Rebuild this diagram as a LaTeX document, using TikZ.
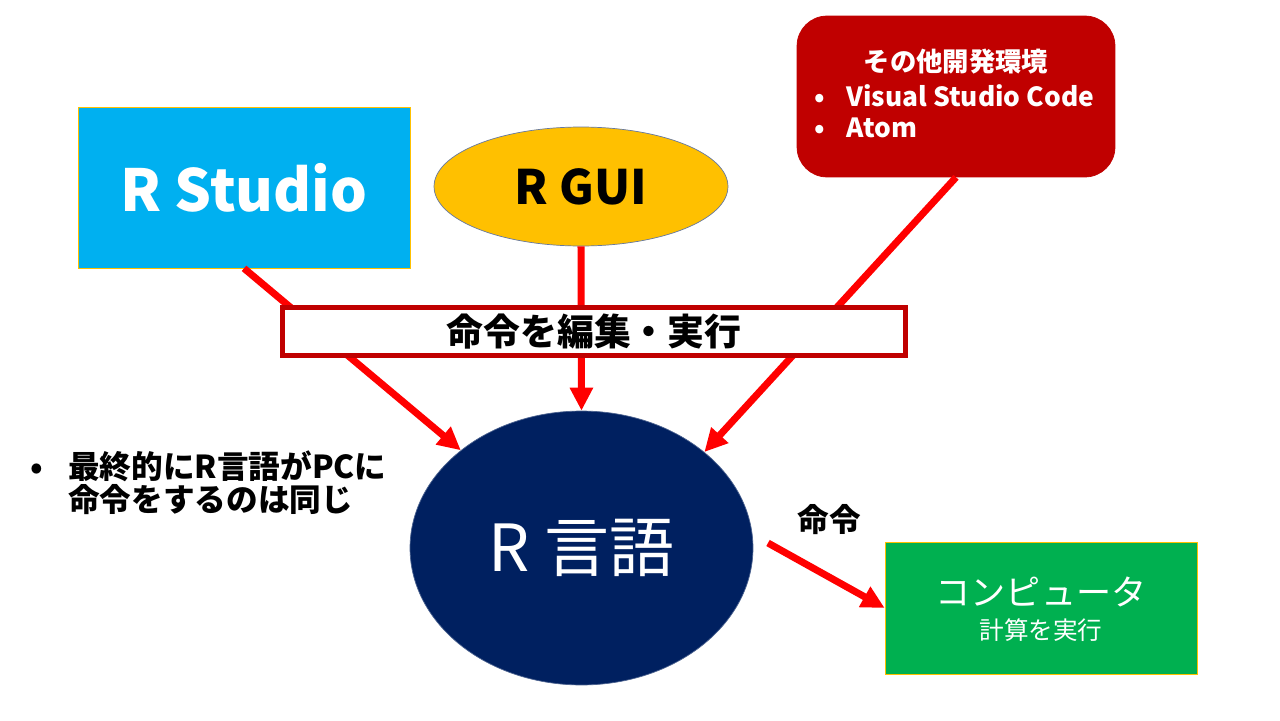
\documentclass[tikz,border=0pt]{standalone}
\usepackage{fontspec}
\setmainfont{Noto Sans CJK JP}
\usepackage{tikz}
\usetikzlibrary{arrows.meta,shapes.geometric}

\definecolor{studiocyan}{HTML}{00B0F0}
\definecolor{guigold}{HTML}{FFC000}
\definecolor{devred}{HTML}{C00000}
\definecolor{langnavy}{HTML}{002060}
\definecolor{pcgreen}{HTML}{00B050}
\definecolor{arrred}{HTML}{FF0000}

\tikzset{
  arr/.style={draw=arrred, line width=4pt, -{Triangle[length=0.46cm,width=0.44cm]}},
  plain/.style={inner sep=0pt, font=\bfseries\fontsize{18}{22}\selectfont},
}

\begin{document}
\begin{tikzpicture}[x=0.02cm,y=-0.02cm]
			\fill[white] (0,0) rectangle (1280,720);
			%%%%%%%%%%%%%%%%%%%%%%%%%%%%%%%%
			\node[draw=guigold, fill=studiocyan, minimum width=6.64cm, minimum height=3.22cm, text=white, font=\bfseries\fontsize{33}{38}\selectfont] (studio) at (244,187.5) {R Studio};
			\node[ellipse, draw=langnavy!60, fill=guigold, minimum width=5.88cm, minimum height=2.38cm, font=\bfseries\fontsize{27}{32}\selectfont] (rgui) at (581,186.5) {R GUI};
			\node[draw=devred, fill=devred, rounded corners=0.6cm, minimum width=6.36cm, minimum height=3.22cm] (dev) at (956,96.5) {};
			\node[plain, text=white, font=\bfseries\fontsize{15}{18}\selectfont] (devtitle) at (956,62) {その他開発環境};
			\node[plain, text=white, anchor=west, font=\bfseries\fontsize{15}{18}\selectfont] (vsc) at (814,96) {\makebox[0.64cm][l]{•}Visual Studio Code};
			\node[plain, text=white, anchor=west, font=\bfseries\fontsize{15}{18}\selectfont] (atom) at (814,128) {\makebox[0.64cm][l]{•}Atom};
			%%%%%%%%%%%%%%%%%%%%%%%%%%%%%%%%
			\node[ellipse, draw=langnavy!70, fill=langnavy, minimum width=6.86cm, minimum height=5.48cm, text=white, font=\fontsize{37}{42}\selectfont] (lang) at (581.5,548) {R 言語};
			\node[draw=guigold, fill=pcgreen, minimum width=6.24cm, minimum height=2.64cm] (comp) at (1041,608) {};
			\node[inner sep=0pt, text=white, font=\fontsize{20}{24}\selectfont] (comptitle) at (1041,592) {コンピュータ};
			\node[inner sep=0pt, text=white, font=\fontsize{14}{17}\selectfont] (compsub) at (1041,630) {計算を実行};
			%%%%%%%%%%%%%%%%%%%%%%%%%%%%%%%%
			\node[plain, anchor=west] (same1) at (30,466) {\makebox[0.76cm][l]{•}最終的にR言語がPCに};
			\node[plain, anchor=west] (same2) at (68,500) {命令をするのは同じ};
			\node[plain] (cmdlabel) at (829,520) {命令};
			\coordinate (cmdstart) at (768,543);
			%%%%%%%%%%%%%%%%%%%%%%%%%%%%%%%%
			\draw[arr] (studio.south) -- (lang.141);
			\draw[arr] (rgui.south) -- (lang.north);
			\draw[arr] (dev.south) -- (lang.38);
			\draw[arr] (cmdstart) -- (comp.west);
			%%%%%%%%%%%%%%%%%%%%%%%%%%%%%%%%
			\node[draw=devred, line width=0.1cm, fill=white, minimum width=12.46cm, minimum height=0.96cm, font=\bfseries\fontsize{21}{25}\selectfont] (edit) at (594,331.5) {命令を編集・実行};
		\end{tikzpicture}
\end{document}
